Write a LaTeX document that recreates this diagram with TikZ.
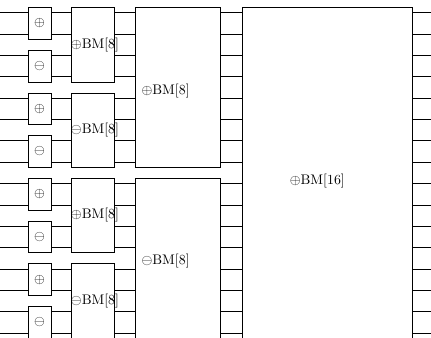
\documentclass[tikz,border=0pt]{standalone}
\usepackage{amsmath, amssymb}
\usetikzlibrary{calc, positioning}
\tikzset{
    cmpbox/.style={rectangle, draw=black, minimum width=0.58cm, minimum height=0.80cm, inner sep=0pt},
    mergebox/.style={rectangle, draw=black, inner sep=0pt},
    wire/.style={draw=black},
    boxlabel/.style={anchor=west, inner sep=0pt}
}
\begin{document}
\begin{tikzpicture}
    \useasboundingbox (0,0.02) rectangle (10.9,8.55);

    % wire ends
    \foreach \i in {1,...,16} {
        \coordinate (w\i) at (0, {0.13+(16-\i)*0.54});
        \coordinate (e\i) at (10.9, {0.13+(16-\i)*0.54});
    }

    % comparators
    \foreach \j/\s in {1/\oplus, 2/\ominus, 3/\oplus, 4/\ominus, 5/\oplus, 6/\ominus, 7/\oplus, 8/\ominus} {
        \node[cmpbox] (cmp\j) at (1.0, {0.13+(16.5-2*\j)*0.54}) {$\s$};
    }

    % first merge stage
    \foreach \k/\s in {1/\oplus, 2/\ominus, 3/\oplus, 4/\ominus} {
        \node[mergebox, minimum width=1.09cm, minimum height=1.88cm] (bma\k) at (2.34, {0.13+(17.5-4*\k)*0.54}) {};
        \node[boxlabel] (laba\k) at (bma\k.west) {$\s$BM[8]};
    }

    % second merge stage
    \foreach \m/\s in {1/\oplus, 2/\ominus} {
        \node[mergebox, minimum width=2.16cm, minimum height=4.04cm] (bmb\m) at (4.50, {0.13+(19.5-8*\m)*0.54}) {};
        \node[boxlabel] (labb\m) at ($(bmb\m.west)+(0.16,-0.08)$) {$\s$BM[8]};
    }

    % last merge stage
    \node[mergebox, minimum width=4.30cm, minimum height=8.36cm] (bmc) at (8.27, 4.18) {};
    \node[boxlabel] (labc) at ($(bmc.west)+(1.21,-0.22)$) {$\oplus$BM[16]};

    % wires
    \foreach \i in {1,...,16} {
        \pgfmathtruncatemacro\j{(\i+1)/2}
        \pgfmathtruncatemacro\k{(\i+3)/4}
        \pgfmathtruncatemacro\m{(\i+7)/8}
        \draw[wire] (w\i) -- (cmp\j.west |- w\i);
        \draw[wire] (cmp\j.east |- w\i) -- (bma\k.west |- w\i);
        \draw[wire] (bma\k.east |- w\i) -- (bmb\m.west |- w\i);
        \draw[wire] (bmb\m.east |- w\i) -- (bmc.west |- w\i);
        \draw[wire] (bmc.east |- w\i) -- (e\i);
    }
\end{tikzpicture}
\end{document}
